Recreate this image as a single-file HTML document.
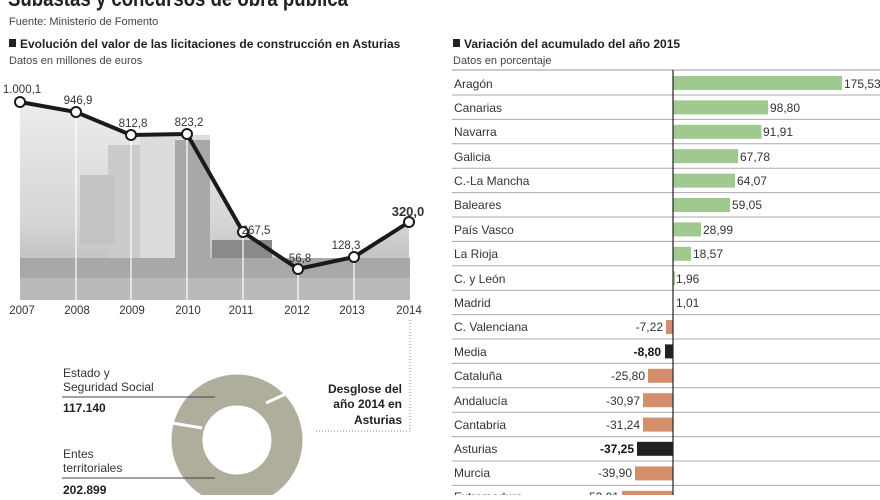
<!DOCTYPE html>
<html><head><meta charset="utf-8"><style>
body{margin:0;width:880px;height:495px;overflow:hidden;background:#fff;font-family:"Liberation Sans",sans-serif;}
</style></head><body>
<svg width="880" height="495" xmlns="http://www.w3.org/2000/svg" font-family="Liberation Sans, sans-serif">
<defs>
<linearGradient id="sky" x1="0" y1="0" x2="0" y2="1"><stop offset="0" stop-color="#ececec"/><stop offset="0.6" stop-color="#d6d6d6"/><stop offset="1" stop-color="#b0b0b0"/></linearGradient>
</defs>
<text x="8" y="6" font-size="22" font-weight="bold" fill="#222" textLength="340" lengthAdjust="spacingAndGlyphs">Subastas y concursos de obra pública</text>
<text x="9" y="25" font-size="11" fill="#444">Fuente: Ministerio de Fomento</text>
<rect x="9" y="39" width="7" height="8" fill="#222"/>
<text x="20" y="48" font-size="12" font-weight="bold" fill="#222">Evolución del valor de las licitaciones de construcción en Asturias</text>
<text x="9" y="64" font-size="11" fill="#444">Datos en millones de euros</text>
<polygon points="20,102 76,112 131,135 187,134 243,232 298,269 354,257 409,222 409,300 20,300" fill="url(#sky)"/>
<rect x="108" y="145" width="60" height="120" fill="#cbcbcb"/>
<rect x="140" y="135" width="70" height="135" fill="#dcdcdc"/>
<rect x="175" y="140" width="35" height="120" fill="#a8a8a8"/>
<rect x="80" y="175" width="35" height="70" fill="#c4c4c4"/>
<rect x="212" y="240" width="60" height="30" fill="#8a8a8a"/>
<rect x="318" y="262" width="91" height="25" fill="#8a8a8a"/>
<rect x="20" y="258" width="390" height="42" fill="#a8a8a8"/>
<rect x="20" y="278" width="390" height="22" fill="#bababa"/>
<g stroke="#fff" stroke-width="1.2">
<line x1="76" y1="112" x2="76" y2="300"/><line x1="131" y1="135" x2="131" y2="300"/><line x1="187" y1="134" x2="187" y2="300"/><line x1="243" y1="232" x2="243" y2="300"/><line x1="298" y1="269" x2="298" y2="300"/><line x1="354" y1="257" x2="354" y2="300"/>
</g>
<polyline points="20,102 76,112 131,135 187,134 243,232 298,269 354,257 409,222" fill="none" stroke="#1a1a1a" stroke-width="4"/>
<g fill="#fff" stroke="#1a1a1a" stroke-width="2">
<circle cx="20" cy="102" r="5"/><circle cx="76" cy="112" r="5"/><circle cx="131" cy="135" r="5"/><circle cx="187" cy="134" r="5"/><circle cx="243" cy="232" r="5"/><circle cx="298" cy="269" r="5"/><circle cx="354" cy="257" r="5"/><circle cx="409" cy="222" r="5"/>
</g>
<g font-size="11.5" fill="#333" text-anchor="middle">
<text x="22" y="93">1.000,1</text><text x="78" y="104">946,9</text><text x="133" y="127">812,8</text><text x="189" y="126">823,2</text><text x="256" y="234">267,5</text><text x="300" y="262">56,8</text><text x="346" y="249">128,3</text>
<text x="408" y="216" font-weight="bold" font-size="13">320,0</text>
<text x="22" y="314">2007</text><text x="77" y="314">2008</text><text x="132" y="314">2009</text><text x="188" y="314">2010</text><text x="241" y="314">2011</text><text x="297" y="314">2012</text><text x="352" y="314">2013</text><text x="409" y="314">2014</text>
</g>
<circle cx="237" cy="440" r="50" fill="none" stroke="#afae9c" stroke-width="31"/>
<line x1="266" y1="403" x2="290" y2="392" stroke="#fff" stroke-width="3"/>
<line x1="202" y1="428" x2="172" y2="423" stroke="#fff" stroke-width="3"/>
<line x1="410" y1="320" x2="410" y2="431" stroke="#888" stroke-dasharray="1,2"/>
<line x1="316" y1="431" x2="410" y2="431" stroke="#888" stroke-dasharray="1,2"/>
<line x1="62" y1="397" x2="215" y2="397" stroke="#444"/>
<line x1="62" y1="478" x2="215" y2="478" stroke="#444"/>
<g font-size="12" fill="#333">
<text x="63" y="377">Estado y</text><text x="63" y="391">Seguridad Social</text>
<text x="63" y="412" font-weight="bold" fill="#222">117.140</text>
<text x="63" y="458">Entes</text><text x="63" y="472">territoriales</text>
<text x="63" y="494" font-weight="bold" fill="#222">202.899</text>
</g>
<g font-size="12" font-weight="bold" fill="#222" text-anchor="end">
<text x="402" y="393">Desglose del</text><text x="402" y="408">año 2014 en</text><text x="402" y="424">Asturias</text>
</g>
<rect x="453" y="39" width="7" height="8" fill="#222"/>
<text x="464" y="48" font-size="12" font-weight="bold" fill="#222">Variación del acumulado del año 2015</text>
<text x="453" y="64" font-size="11" fill="#444">Datos en porcentaje</text>
<line x1="452" y1="70" x2="880" y2="70" stroke="#999"/>
<g stroke="#aaa" stroke-width="1">
<line x1="452" y1="95" x2="880" y2="95"/><line x1="452" y1="119.4" x2="880" y2="119.4"/><line x1="452" y1="143.8" x2="880" y2="143.8"/><line x1="452" y1="168.2" x2="880" y2="168.2"/><line x1="452" y1="192.6" x2="880" y2="192.6"/><line x1="452" y1="217" x2="880" y2="217"/><line x1="452" y1="241.4" x2="880" y2="241.4"/><line x1="452" y1="265.8" x2="880" y2="265.8"/><line x1="452" y1="290.2" x2="880" y2="290.2"/><line x1="452" y1="314.6" x2="880" y2="314.6"/><line x1="452" y1="339" x2="880" y2="339"/><line x1="452" y1="363.4" x2="880" y2="363.4"/><line x1="452" y1="387.8" x2="880" y2="387.8"/><line x1="452" y1="412.2" x2="880" y2="412.2"/><line x1="452" y1="436.6" x2="880" y2="436.6"/><line x1="452" y1="461" x2="880" y2="461"/><line x1="452" y1="485.4" x2="880" y2="485.4"/>
</g>
<g fill="#9fc98e">
<rect x="673" y="76" width="169" height="14"/><rect x="673" y="100.4" width="95" height="14"/><rect x="673" y="124.8" width="88.5" height="14"/><rect x="673" y="149.2" width="65" height="14"/><rect x="673" y="173.6" width="62" height="14"/><rect x="673" y="198" width="57" height="14"/><rect x="673" y="222.4" width="28" height="14"/><rect x="673" y="246.8" width="18" height="14"/><rect x="673" y="271.2" width="2" height="14"/>
</g>
<g fill="#d48e6c">
<rect x="666" y="320" width="7" height="14"/><rect x="648" y="368.8" width="25" height="14"/><rect x="643" y="393.2" width="30" height="14"/><rect x="643" y="417.6" width="30" height="14"/><rect x="635" y="466.4" width="38" height="14"/><rect x="622" y="490.8" width="51" height="14"/>
</g>
<g fill="#222"><rect x="665" y="344.4" width="8" height="14"/><rect x="637" y="441.8" width="36" height="14"/></g>
<line x1="673" y1="70" x2="673" y2="495" stroke="#222" stroke-width="1.2"/>
<g font-size="12" fill="#333">
<text x="454" y="88">Aragón</text><text x="454" y="112">Canarias</text><text x="454" y="136">Navarra</text><text x="454" y="161">Galicia</text><text x="454" y="185">C.-La Mancha</text><text x="454" y="209">Baleares</text><text x="454" y="234">País Vasco</text><text x="454" y="258">La Rioja</text><text x="454" y="283">C. y León</text><text x="454" y="307">Madrid</text><text x="454" y="331">C. Valenciana</text><text x="454" y="356">Media</text><text x="454" y="380">Cataluña</text><text x="454" y="405">Andalucía</text><text x="454" y="429">Cantabria</text><text x="454" y="453">Asturias</text><text x="454" y="477">Murcia</text><text x="454" y="501">Extremadura</text>
</g>
<g font-size="12" fill="#333">
<text x="844" y="88">175,53</text><text x="770" y="112">98,80</text><text x="763" y="136">91,91</text><text x="740" y="161">67,78</text><text x="737" y="185">64,07</text><text x="732" y="209">59,05</text><text x="703" y="234">28,99</text><text x="693" y="258">18,57</text><text x="676" y="283">1,96</text><text x="676" y="307">1,01</text>
</g>
<g font-size="12" fill="#333" text-anchor="end">
<text x="663" y="331">-7,22</text><text x="661" y="356" font-weight="bold" fill="#111">-8,80</text><text x="645" y="380">-25,80</text><text x="640" y="405">-30,97</text><text x="640" y="429">-31,24</text><text x="634" y="453" font-weight="bold" fill="#111">-37,25</text><text x="632" y="477">-39,90</text><text x="619" y="501">-53,91</text>
</g>
</svg>
</body></html>
